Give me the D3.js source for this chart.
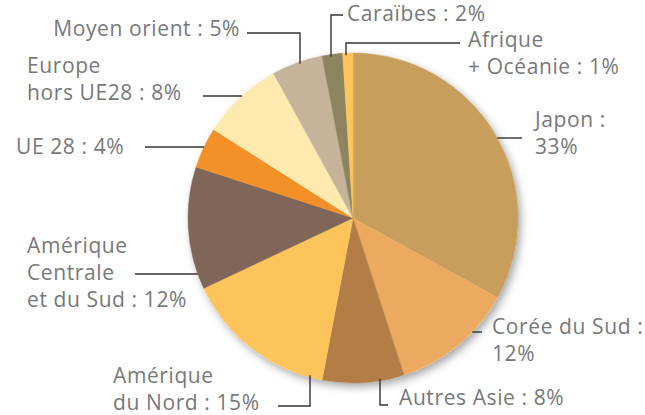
<!DOCTYPE html>
<html>
<head>
<meta charset="utf-8">
<script src="https://cdn.jsdelivr.net/npm/d3@7"></script>
<style>
  body { margin: 0; background: #fff; }
  svg text { font-family: "Open Sans", Lato, sans-serif; fill: #77787b; font-size: 21px; letter-spacing: 0.6px; }
</style>
</head>
<body>
<div class="graph"></div>
<script>
var categories = ['Japon', 'Corée du Sud', 'Autres Asie', 'Amérique du Nord', 'Amérique Centrale et du Sud',
                  'UE 28', 'Europe hors UE28', 'Moyen orient', 'Caraïbes', 'Afrique + Océanie'];
var shares = [33, 12, 8, 15, 12, 4, 8, 5, 2, 1];
var labelLines = [
  ['Japon :', '33%'],
  ['Corée du Sud :', '12%'],
  ['Autres Asie : 8%'],
  ['Amérique', 'du Nord : 15%'],
  ['Amérique', 'Centrale', 'et du Sud : 12%'],
  ['UE 28 : 4%'],
  ['Europe', 'hors UE28 : 8%'],
  ['Moyen orient : 5%'],
  ['Caraïbes : 2%'],
  ['Afrique', '+ Océanie : 1%']
];
var colors = ['#c89e5d', '#ecaa60', '#b37d46', '#fdc45c', '#7f6659',
              '#f39028', '#feeaaf', '#c5b49a', '#8b845e', '#fdc55a'];

var width = 645, height = 415;
var cx = 353, cy = 218, radius = 165;

// where each label sits and how its leader line runs (pixels)
// 'h': horizontal line at y from x0 to the pie edge
// 'v' / 'vb': horizontal at y from x0 to xv, then vertical to the top / bottom edge
var layout = [
  {tx: 535, ty: 127, anchor: 'start', kind: 'h', y: 138, x0: 522},
  {tx: 492, ty: 334, anchor: 'start', kind: 'h', y: 332, x0: 482},
  {tx: 399, ty: 405, anchor: 'start', kind: 'vb', y: 405, x0: 388, xv: 380},
  {tx: 113, ty: 383, anchor: 'start', kind: 'vb', y: 406, x0: 278, xv: 310},
  {tx: 27, ty: 253, anchor: 'start', kind: 'h', y: 274, x0: 135},
  {tx: 16, ty: 154, anchor: 'start', kind: 'h', y: 147, x0: 145},
  {tx: 27, ty: 73, anchor: 'start', kind: 'h', y: 96, x0: 203},
  {tx: 240, ty: 36, anchor: 'end', kind: 'v', y: 33, x0: 247, xv: 300},
  {tx: 347, ty: 21, anchor: 'start', kind: 'v', y: 15, x0: 343, xv: 331},
  {tx: 468, ty: 47, anchor: 'start', kind: 'v', y: 43, x0: 460, xv: 346}
];
var lineHeight = 27;

var data = categories.map(function(c, i) { return {name: c, value: shares[i], idx: i}; });

var svg = d3.select('.graph').append('svg')
  .attr('width', width)
  .attr('height', height);

var defs = svg.append('defs');
var filter = defs.append('filter').attr('id', 'shadow')
  .attr('x', '-20%').attr('y', '-20%').attr('width', '140%').attr('height', '140%');
filter.append('feDropShadow')
  .attr('dx', 3).attr('dy', 4).attr('stdDeviation', 4)
  .attr('flood-color', '#000').attr('flood-opacity', 0.35);

var pie = d3.pie().sort(null).value(function(d) { return d.value; });
var arc = d3.arc().innerRadius(0).outerRadius(radius);

var g = svg.append('g').attr('transform', 'translate(' + cx + ',' + cy + ')');

g.append('circle').attr('r', radius).attr('fill', '#fff').attr('filter', 'url(#shadow)');

g.selectAll('path.slice')
  .data(pie(data))
  .enter()
  .append('path')
  .attr('class', 'slice')
  .attr('d', arc)
  .attr('fill', function(d) { return colors[d.data.idx]; })
  .attr('stroke', function(d) { return colors[d.data.idx]; })
  .attr('stroke-width', 0.5);

// leader lines
function edgeX(y, side) {
  var dy = y - cy;
  return cx + side * Math.sqrt(radius * radius - dy * dy);
}
function edgeY(x, side) {
  var dx = x - cx;
  return cy + side * Math.sqrt(radius * radius - dx * dx);
}

var leaders = svg.append('g').attr('class', 'leaders');
layout.forEach(function(l) {
  var pts;
  if (l.kind === 'h') {
    var side = l.x0 > cx ? 1 : -1;
    pts = [[l.x0, l.y], [edgeX(l.y, side), l.y]];
  } else if (l.kind === 'v') {
    pts = [[l.x0, l.y], [l.xv, l.y], [l.xv, edgeY(l.xv, -1) + 2]];
  } else {
    pts = [[l.x0, l.y], [l.xv, l.y], [l.xv, edgeY(l.xv, 1) - 2]];
  }
  leaders.append('path')
    .attr('d', d3.line()(pts))
    .attr('fill', 'none')
    .attr('stroke', '#333')
    .attr('stroke-width', 1.4);
});

// labels
var labels = svg.append('g').attr('class', 'labels');
labelLines.forEach(function(lines, i) {
  var l = layout[i];
  var t = labels.append('text')
    .attr('x', l.tx)
    .attr('y', l.ty)
    .attr('text-anchor', l.anchor);
  lines.forEach(function(s, j) {
    t.append('tspan')
      .attr('x', l.tx)
      .attr('dy', j === 0 ? 0 : lineHeight)
      .text(s);
  });
});
</script>
</body>
</html>
